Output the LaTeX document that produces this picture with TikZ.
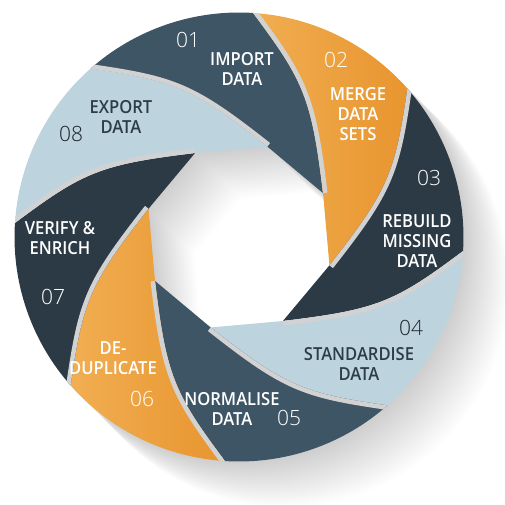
\documentclass[tikz,border=0pt]{standalone}
\usepackage{fontspec}
\setmainfont{Open Sans}
\newfontfamily\labelfont[FakeStretch=0.92]{Open Sans Semibold}
\newfontfamily\numberfont{Open Sans Light}
\definecolor{slate}{HTML}{3E5566}
\definecolor{navy}{HTML}{2C3A45}
\definecolor{lightb}{HTML}{BDD4DF}
\definecolor{orL}{HTML}{F1AE52}
\definecolor{orR}{HTML}{E8952E}
\definecolor{darktext}{HTML}{2D3D48}
\definecolor{darknum}{HTML}{1C252C}
\definecolor{bandgrey}{HTML}{D2D2D2}
\newcommand\bladepath[2]{(T#1) -- (T#2) .. controls (A#2) and (B#2) .. (E#2)
  arc[start angle={131.4-45*(#1-1)}, end angle={86.4-45*(#1-1)}, radius=224.5]
  .. controls (B#1) and (A#1) .. (T#1) -- cycle}
\tikzset{
  orangefill/.style={left color=orL, right color=orR},
  bandline/.style={draw=bandgrey, line width=9pt},
  lbl/.style={font=\labelfont\fontsize{18}{20}\selectfont, align=center, text=white, inner sep=0pt},
  num/.style={font=\numberfont\fontsize{21}{21}\selectfont, text=white, inner sep=0pt},
}
\begin{document}
\begin{tikzpicture}[x=1pt,y=1pt]
\useasboundingbox (-239,-267) rectangle (266,237);
% geometry
\foreach \kk in {1,...,8}{
  \pgfmathsetmacro\tt{27.6-45*(\kk-1)}
  \coordinate (T\kk) at ({\tt}:94.8);
  \coordinate (A\kk) at ({\tt+34.8}:156.8);
  \coordinate (B\kk) at ({\tt+39.8}:169);
  \coordinate (E\kk) at ({\tt+58.8}:224.5);
}
% long soft shadow
\foreach \ii in {1,...,24}{
  \begin{scope}[shift={({1.9*\ii},{-1.9*\ii})}]
    \fill[black, opacity=0.009, even odd rule] (0,0) circle[radius=224.5]
      (27.6:94.8) -- (-17.4:94.8) -- (-62.4:94.8) -- (-107.4:94.8) -- (-152.4:94.8)
      -- (162.6:94.8) -- (117.6:94.8) -- (72.6:94.8) -- cycle;
  \end{scope}
}
% blades (visible parts)
\path[fill=slate] \bladepath{1}{8};
\path[orangefill] \bladepath{2}{1};
\path[fill=navy] \bladepath{3}{2};
\path[fill=lightb] \bladepath{4}{3};
\path[fill=slate] \bladepath{5}{4};
\path[orangefill] \bladepath{6}{5};
\path[fill=navy] \bladepath{7}{6};
\path[fill=lightb] \bladepath{8}{7};
% shadow bands under each overlapping edge
\foreach \kk/\nn in {1/2,2/3,3/4,4/5,5/6,6/7,7/8,8/1}{
  \begin{scope}
    \clip \bladepath{\nn}{\kk};
    \draw[bandline] (T\kk) .. controls (A\kk) and (B\kk) .. (E\kk);
  \end{scope}
}
% texts
\node[num] (n01) at (-51,197) {01};
\node[lbl] (l01) at (3,168) {IMPORT\\DATA};
\node[num] (n02) at (97,177) {02};
\node[lbl] (l02) at (119,123) {MERGE\\DATA\\SETS};
\node[num] (n03) at (190,59) {03};
\node[lbl] (l03) at (178,-4) {REBUILD\\MISSING\\DATA};
\node[num, text=darknum] (n04) at (172,-91) {04};
\node[lbl, text=darktext] (l04) at (120,-127) {STANDARDISE\\DATA};
\node[num] (n05) at (50,-181) {05};
\node[lbl] (l05) at (-7,-172) {NORMALISE\\DATA};
\node[num] (n06) at (-97,-162) {06};
\node[lbl] (l06) at (-126,-121.5) {DE-\\DUPLICATE};
\node[num] (n07) at (-186,-60) {07};
\node[lbl] (l07) at (-179,-1.5) {VERIFY \&\\ENRICH};
\node[num, text=darknum] (n08) at (-168,103) {08};
\node[lbl, text=darktext] (l08) at (-118,120.5) {EXPORT\\DATA};
\end{tikzpicture}
\end{document}
